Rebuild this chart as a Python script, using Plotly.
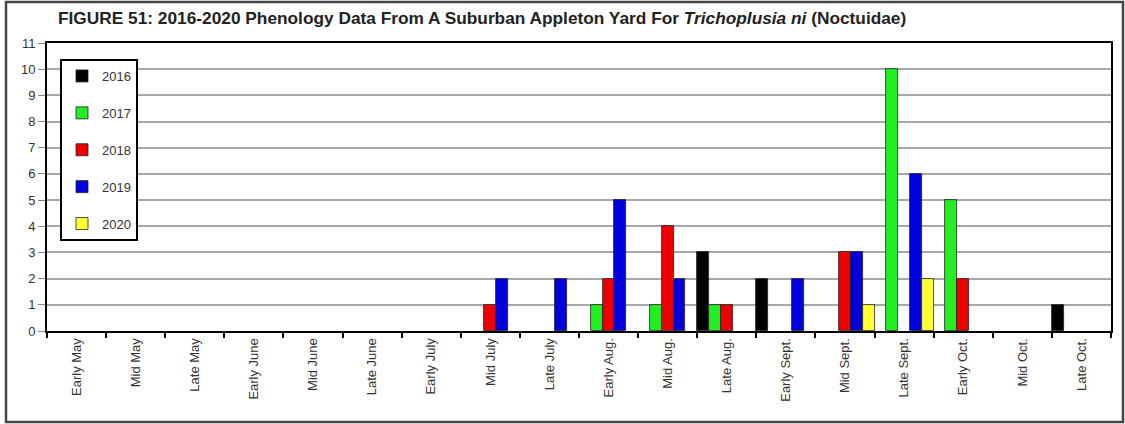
import plotly.graph_objects as go

# Phenology counts per half-month period
periods = ["Early May", "Mid May", "Late May", "Early June", "Mid June", "Late June",
           "Early July", "Mid July", "Late July", "Early Aug.", "Mid Aug.", "Late Aug.",
           "Early Sept.", "Mid Sept.", "Late Sept.", "Early Oct.", "Mid Oct.", "Late Oct."]
years = ["2016", "2017", "2018", "2019", "2020"]
y2016 = [0, 0, 0, 0, 0, 0, 0, 0, 0, 0, 0, 3, 2, 0, 0, 0, 0, 1]
y2017 = [0, 0, 0, 0, 0, 0, 0, 0, 0, 1, 1, 1, 0, 0, 10, 5, 0, 0]
y2018 = [0, 0, 0, 0, 0, 0, 0, 1, 0, 2, 4, 1, 0, 3, 0, 2, 0, 0]
y2019 = [0, 0, 0, 0, 0, 0, 0, 2, 2, 5, 2, 0, 2, 3, 6, 0, 0, 0]
y2020 = [0, 0, 0, 0, 0, 0, 0, 0, 0, 0, 0, 0, 0, 1, 2, 0, 0, 0]
y_ticks = list(range(0, 12))

colors = ["#000000", "#22ee22", "#ee0000", "#0000dd", "#ffff33"]
series = [y2016, y2017, y2018, y2019, y2020]

fig = go.Figure()
for yr, vals, col in zip(years, series, colors):
    # zero counts drawn as no bar (avoids outline stub on the axis)
    fig.add_trace(go.Bar(
        x=periods, y=[v if v else None for v in vals], name=yr,
        legendgroup=yr,
        marker=dict(color=col, line=dict(color="#222222", width=0.8)),
    ))

# plot area geometry (pixels) for frame shape
L, R, T, B, W, H = 47, 14, 43, 93, 1125, 424
pw, ph = W - L - R, H - T - B

fig.update_layout(
    width=W, height=H,
    margin=dict(l=L, r=R, t=T, b=B),
    paper_bgcolor="white", plot_bgcolor="white",
    font=dict(family="Liberation Sans, Arial, sans-serif", color="#333333"),
    title=dict(
        text="FIGURE 51: 2016-2020 Phenology Data From A Suburban Appleton Yard For "
             "<i>Trichoplusia ni</i> (Noctuidae)",
        font=dict(size=17.3, color="#222222", family="Liberation Sans, Arial, sans-serif", weight="bold"),
        x=58 / W, xref="container", xanchor="left",
        y=1 - 18 / H, yref="container", yanchor="middle",
    ),
    barmode="group", bargap=0, bargroupgap=0,
    showlegend=True,
    legend=dict(
        x=(60 - L) / pw, y=(H - B - 59) / ph, xanchor="left", yanchor="top",
        bgcolor="white", bordercolor="#000000", borderwidth=2,
        font=dict(size=13, color="#333333"),
        tracegroupgap=17, traceorder="grouped",
        itemwidth=30,
    ),
    xaxis=dict(
        type="category", tickson="boundaries",
        showline=True, linecolor="#000000", linewidth=2, mirror=True,
        ticks="outside", ticklen=5, tickwidth=2, tickcolor="#000000",
        tickangle=-90, tickfont=dict(size=13, color="#333333"),
        showgrid=False,
    ),
    yaxis=dict(
        range=[0, 11], tickvals=y_ticks,
        showline=True, linecolor="#000000", linewidth=2, mirror=True,
        ticks="outside", ticklen=7, tickwidth=1, tickcolor="#888888",
        tickfont=dict(size=13, color="#333333"),
        showgrid=True, gridcolor="#a8a8a8", gridwidth=1.5,
        zeroline=False,
    ),
    shapes=[dict(
        type="rect", xref="paper", yref="paper",
        x0=(6 - L) / pw, x1=(1123 - L) / pw,
        y0=(H - B - 422) / ph, y1=(H - B - 2) / ph,
        line=dict(color="#444444", width=2.5), fillcolor="rgba(0,0,0,0)",
        layer="below",
    )],
)

fig.write_html("out.html", config={"displayModeBar": False},
               post_script="document.body.style.margin='0';")
